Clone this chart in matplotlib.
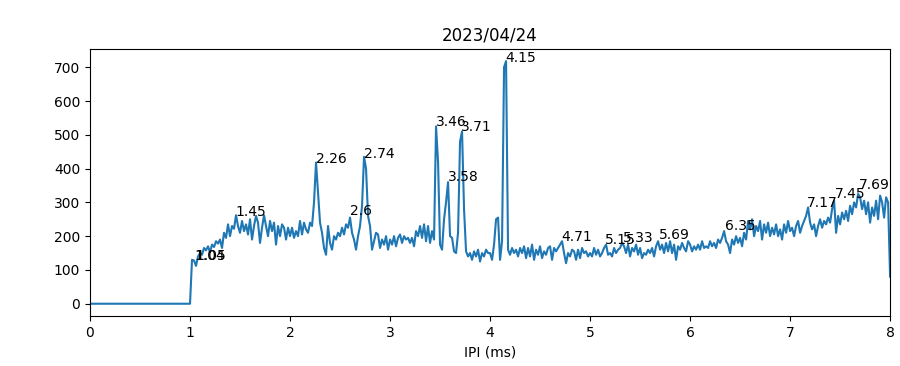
import numpy as np
import matplotlib
matplotlib.use("Agg")
import matplotlib.pyplot as plt

# counts per IPI bin, 0.02 ms steps from 0 to 8 ms
counts = [0] * 50 + [
    0, 130, 128, 112, 140, 150, 145, 165, 158, 170,
    152, 175, 168, 185, 178, 190, 165, 210, 195, 235,
    200, 230, 222, 262, 230, 210, 245, 215, 235, 205,
    250, 190, 230, 260, 240, 180, 225, 262, 230, 200,
    245, 215, 240, 175, 230, 200, 235, 225, 190, 225,
    200, 225, 195, 215, 200, 245, 205, 240, 220, 210,
    240, 230, 300, 418, 330, 240, 210, 165, 145, 230,
    180, 160, 200, 190, 210, 200, 225, 205, 235, 225,
    255, 210, 190, 160, 200, 230, 290, 435, 400, 260,
    230, 160, 185, 210, 205, 165, 190, 175, 200, 160,
    190, 175, 200, 170, 195, 205, 180, 200, 190, 195,
    180, 195, 170, 215, 200, 230, 195, 235, 185, 230,
    180, 215, 190, 525, 420, 175, 160, 250, 300, 360,
    200, 195, 155, 150, 210, 480, 510, 280, 155, 140,
    150, 130, 155, 140, 160, 125, 150, 140, 160, 150,
    150, 130, 175, 250, 255, 130, 185, 700, 718, 160,
    145, 165, 150, 160, 140, 165, 150, 170, 135, 165,
    140, 175, 130, 160, 145, 170, 135, 155, 145, 165,
    170, 130, 165, 155, 165, 175, 185, 150, 120, 150,
    140, 160, 155, 130, 160, 135, 165, 150, 155, 140,
    150, 140, 165, 145, 160, 140, 150, 165, 175, 145,
    150, 140, 165, 150, 160, 165, 180, 170, 150, 175,
    140, 165, 155, 175, 145, 165, 135, 150, 145, 160,
    150, 165, 140, 170, 185, 160, 175, 150, 180, 155,
    185, 150, 175, 130, 170, 160, 180, 165, 155, 185,
    175, 155, 170, 160, 175, 160, 185, 165, 170, 165,
    185, 170, 180, 165, 190, 180, 195, 215, 185, 175,
    150, 190, 175, 200, 180, 195, 170, 210, 190, 245,
    220, 250, 200, 230, 215, 245, 190, 235, 210, 240,
    200, 225, 205, 235, 200, 220, 190, 235, 210, 245,
    215, 225, 200, 230, 245, 210, 230, 245, 260, 285,
    240, 220, 235, 200, 230, 250, 225, 245, 235, 255,
    240, 280, 305, 210, 260, 235, 270, 250, 275, 245,
    290, 265, 300, 285, 325, 315, 280, 305, 265, 300,
    240, 285, 260, 305, 250, 320, 300, 255, 315, 300,
    80,
]
ipi = np.linspace(0, 8, len(counts))

# labelled peaks
peak_x = [1.04, 1.05, 1.45, 2.26, 2.6, 2.74, 3.46, 3.58, 3.71, 4.15,
          4.71, 5.15, 5.33, 5.69, 6.35, 7.17, 7.45, 7.69]
peak_y = [130, 130, 261, 416, 264, 432, 526, 362, 511, 716,
          185, 177, 182, 193, 218, 286, 313, 340]

fig = plt.figure(figsize=(9, 3.66), dpi=100)
ax = fig.add_subplot(111)
fig.subplots_adjust(left=0.1, right=0.989, top=0.866, bottom=0.137)

ax.plot(ipi, counts)
for x, y in zip(peak_x, peak_y):
    ax.annotate(str(x), (x, y))

ax.set_xlim(0, 8)
ax.set_title("2023/04/24")
ax.set_xlabel("IPI (ms)")

plt.savefig("out.png")
